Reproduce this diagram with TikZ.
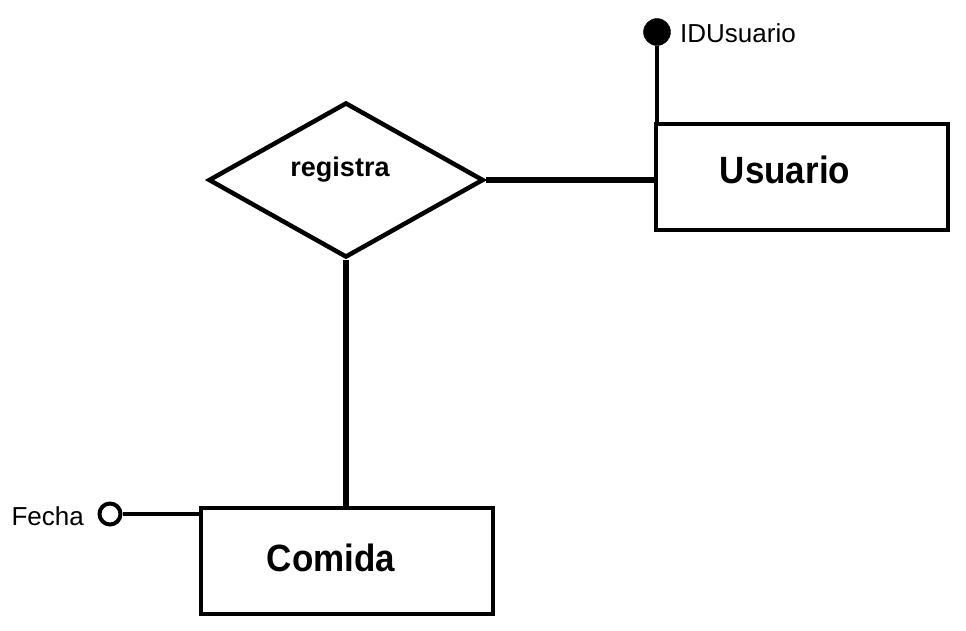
\documentclass[tikz,border=0pt]{standalone}
\usepackage{fontspec}
\setmainfont{Liberation Sans}
\usetikzlibrary{shapes.geometric}
\begin{document}
\begin{tikzpicture}[x=1pt,y=-1pt,
  entity/.style={draw,rectangle,line width=4pt,minimum width=292pt,minimum height=106pt,inner sep=0pt},
  relbox/.style={draw,diamond,line width=4.5pt,minimum width=275pt,minimum height=155pt,inner sep=0pt},
  keyattr/.style={draw,circle,fill=black,minimum size=27pt,inner sep=0pt},
  attr/.style={draw,circle,fill=white,line width=4pt,minimum size=21pt,inner sep=0pt},
  lbl/.style={inner sep=0pt},
  bigname/.style={lbl,font=\bfseries\fontsize{38}{42}\selectfont},
  thick line/.style={line width=5.5pt},
  thin line/.style={line width=3.5pt}]
\useasboundingbox (0,0) rectangle (966,630);
\node[entity] (usuario) at (802,177) {};
\node[bigname] (usuariot) at (785,170) {\scalebox{0.92}[1]{Usuario}};
\node[entity] (comida) at (347,561) {};
\node[bigname] (comidat) at (331,558) {\scalebox{0.92}[1]{Comida}};
\node[relbox] (registra) at (346,180) {};
\node[lbl,font=\bfseries\fontsize{27}{30}\selectfont] (registrat) at (340,170) {registra};
\node[keyattr] (idu) at (657,32) {};
\node[lbl,anchor=west,font=\fontsize{26}{30}\selectfont] (idut) at (680,33) {IDUsuario};
\node[attr] (fecha) at (110,514) {};
\node[lbl,anchor=east,font=\fontsize{26}{30}\selectfont] (fechat) at (84,516) {Fecha};
\draw[thick line] (registra.east) -- (registra.east -| usuario.west);
\draw[thick line] (registra.south) -- (registra.south |- comida.north);
\draw[thin line] (idu.south) -- (idu.south |- usuario.north);
\draw[thin line] (fecha.east) -- (fecha.east -| comida.west);
\end{tikzpicture}
\end{document}
